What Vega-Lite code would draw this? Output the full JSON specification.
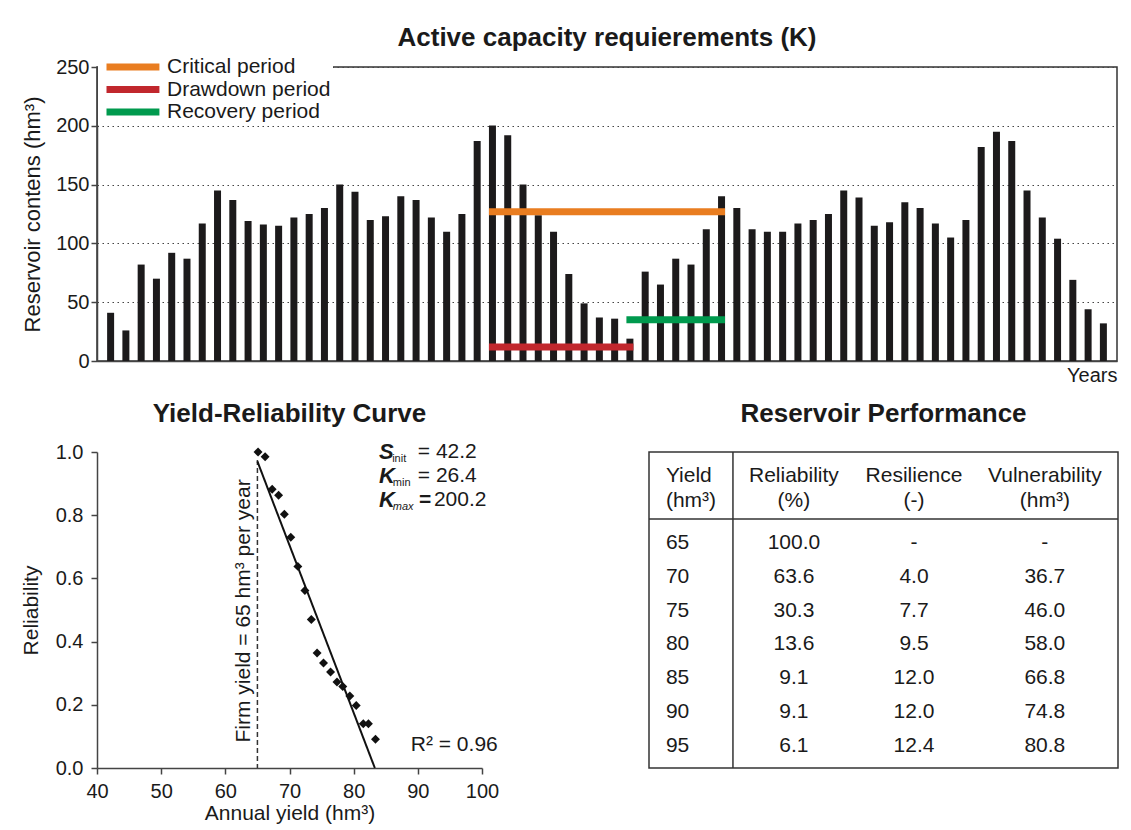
{
  "$schema": "https://vega.github.io/schema/vega-lite/v6.json",
  "background": "white",
  "padding": {"left": 20, "top": 24, "right": 5, "bottom": 5},
  "datasets": {
    "storage": [
      {"year": 1, "storage": 41}, {"year": 2, "storage": 26}, {"year": 3, "storage": 82}, {"year": 4, "storage": 70},
      {"year": 5, "storage": 92}, {"year": 6, "storage": 87}, {"year": 7, "storage": 117}, {"year": 8, "storage": 145},
      {"year": 9, "storage": 137}, {"year": 10, "storage": 119}, {"year": 11, "storage": 116}, {"year": 12, "storage": 115},
      {"year": 13, "storage": 122}, {"year": 14, "storage": 125}, {"year": 15, "storage": 130}, {"year": 16, "storage": 150},
      {"year": 17, "storage": 144}, {"year": 18, "storage": 120}, {"year": 19, "storage": 123}, {"year": 20, "storage": 140},
      {"year": 21, "storage": 137}, {"year": 22, "storage": 122}, {"year": 23, "storage": 110}, {"year": 24, "storage": 125},
      {"year": 25, "storage": 187}, {"year": 26, "storage": 200.2}, {"year": 27, "storage": 192}, {"year": 28, "storage": 150},
      {"year": 29, "storage": 124}, {"year": 30, "storage": 110}, {"year": 31, "storage": 74}, {"year": 32, "storage": 49},
      {"year": 33, "storage": 37}, {"year": 34, "storage": 36}, {"year": 35, "storage": 19}, {"year": 36, "storage": 76},
      {"year": 37, "storage": 65}, {"year": 38, "storage": 87}, {"year": 39, "storage": 82}, {"year": 40, "storage": 112},
      {"year": 41, "storage": 140}, {"year": 42, "storage": 130}, {"year": 43, "storage": 112}, {"year": 44, "storage": 110},
      {"year": 45, "storage": 110}, {"year": 46, "storage": 117}, {"year": 47, "storage": 120}, {"year": 48, "storage": 125},
      {"year": 49, "storage": 145}, {"year": 50, "storage": 139}, {"year": 51, "storage": 115}, {"year": 52, "storage": 118},
      {"year": 53, "storage": 135}, {"year": 54, "storage": 130}, {"year": 55, "storage": 117}, {"year": 56, "storage": 105},
      {"year": 57, "storage": 120}, {"year": 58, "storage": 182}, {"year": 59, "storage": 195}, {"year": 60, "storage": 187},
      {"year": 61, "storage": 145}, {"year": 62, "storage": 122}, {"year": 63, "storage": 104}, {"year": 64, "storage": 69},
      {"year": 65, "storage": 44}, {"year": 66, "storage": 32}
    ],
    "periods": [
      {"period": "Critical period", "start": 26, "end": 41, "level": 127},
      {"period": "Drawdown period", "start": 26, "end": 35, "level": 12},
      {"period": "Recovery period", "start": 35, "end": 41, "level": 35}
    ],
    "curve": [
      {"yield": 65.1, "reliability": 1.0}, {"yield": 66.2, "reliability": 0.985}, {"yield": 67.3, "reliability": 0.882},
      {"yield": 68.3, "reliability": 0.863}, {"yield": 69.2, "reliability": 0.803}, {"yield": 70.2, "reliability": 0.73},
      {"yield": 71.3, "reliability": 0.638}, {"yield": 72.4, "reliability": 0.562}, {"yield": 73.4, "reliability": 0.47},
      {"yield": 74.3, "reliability": 0.364}, {"yield": 75.3, "reliability": 0.332}, {"yield": 76.4, "reliability": 0.304},
      {"yield": 77.4, "reliability": 0.272}, {"yield": 78.3, "reliability": 0.258}, {"yield": 79.4, "reliability": 0.228},
      {"yield": 80.4, "reliability": 0.198}, {"yield": 81.5, "reliability": 0.14}, {"yield": 82.3, "reliability": 0.14},
      {"yield": 83.4, "reliability": 0.091}
    ],
    "fit": [{"yield": 65, "reliability": 0.97}, {"yield": 83.3, "reliability": 0}],
    "firm": [{"yield": 65, "reliability": 0.975}],
    "performance": [
      {"Yield": 65, "Reliability": "100.0", "Resilience": "-", "Vulnerability": "-"},
      {"Yield": 70, "Reliability": "63.6", "Resilience": "4.0", "Vulnerability": "36.7"},
      {"Yield": 75, "Reliability": "30.3", "Resilience": "7.7", "Vulnerability": "46.0"},
      {"Yield": 80, "Reliability": "13.6", "Resilience": "9.5", "Vulnerability": "58.0"},
      {"Yield": 85, "Reliability": "9.1", "Resilience": "12.0", "Vulnerability": "66.8"},
      {"Yield": 90, "Reliability": "9.1", "Resilience": "12.0", "Vulnerability": "74.8"},
      {"Yield": 95, "Reliability": "6.1", "Resilience": "12.4", "Vulnerability": "80.8"}
    ]
  },
  "spacing": 14,
  "vconcat": [
    {
      "width": 1020,
      "height": 294,
      "view": {"stroke": "#333", "strokeWidth": 1.5},
      "title": {"text": "Active capacity requierements (K)", "offset": 6},
      "layer": [
        {
          "data": {"name": "storage"},
          "mark": {"type": "bar", "size": 7, "color": "#1c1a1b"},
          "encoding": {
            "x": {"field": "year", "type": "quantitative", "title": "Years",
              "scale": {"domain": [0.436, 66.564], "nice": false, "zero": false},
              "axis": {"ticks": false, "labels": false, "grid": false, "titleAnchor": "end", "titlePadding": 4}},
            "y": {"field": "storage", "type": "quantitative", "title": "Reservoir contens (hm³)",
              "scale": {"domain": [0, 250], "nice": false},
              "axis": {"values": [0, 50, 100, 150, 200, 250], "tickSize": 6, "labelPadding": 2, "titlePadding": 11, "titleFontSize": 22,
                "grid": true, "gridDash": [1.5, 3.5], "gridColor": "#444", "gridWidth": 1.2}}
          }
        },
        {
          "data": {"name": "periods"},
          "mark": {"type": "rule", "strokeWidth": 7, "strokeCap": "square"},
          "encoding": {
            "x": {"field": "start", "type": "quantitative", "title": "Years"},
            "x2": {"field": "end"},
            "y": {"field": "level", "type": "quantitative", "title": "Reservoir contens (hm³)"},
            "color": {"field": "period", "type": "nominal",
              "scale": {"domain": ["Critical period", "Drawdown period", "Recovery period"], "range": ["#E97D20", "#C1272D", "#009A4E"]},
              "legend": {"title": null, "orient": "none", "legendX": 1, "legendY": -13,
                "symbolType": "M0,0H10", "symbolSize": 112, "symbolStrokeWidth": 7, "symbolOffset": -4,
                "labelFontSize": 21, "labelColor": "#1a1a1a", "labelLimit": 400, "clipHeight": 22,
                "labelOffset": 50, "fillColor": "white", "padding": 2, "rowPadding": 0.5}}
          }
        }
      ]
    },
    {
      "spacing": 148,
      "hconcat": [
        {
          "width": 385,
          "height": 316,
          "view": {"stroke": null},
          "title": {"text": "Yield-Reliability Curve", "offset": 14},
          "layer": [
            {
              "data": {"name": "firm"},
              "mark": {"type": "rule", "strokeDash": [5, 3], "strokeWidth": 1.5, "color": "#333"},
              "encoding": {
                "x": {"field": "yield", "type": "quantitative", "title": "Annual yield (hm³)",
                  "scale": {"domain": [40, 100], "nice": false, "zero": false},
                  "axis": {"values": [40, 50, 60, 70, 80, 90, 100], "tickSize": 6, "labelPadding": 7, "titlePadding": 1, "titleFontSize": 21, "labelFlush": false, "grid": false}},
                "y": {"field": "reliability", "type": "quantitative", "title": "Reliability",
                  "scale": {"domain": [0, 1], "nice": false},
                  "axis": {"values": [0, 0.1, 0.2, 0.3, 0.4, 0.5, 0.6, 0.7, 0.8, 0.9, 1.0],
                    "labelExpr": "round(datum.value*10) % 2 == 0 ? format(datum.value, '.1f') : ''",
                    "tickSize": 6, "labelPadding": 8, "titlePadding": 14, "titleFontSize": 21, "grid": false}},
                "y2": {"datum": 0}
              }
            },
            {
              "data": {"name": "fit"},
              "mark": {"type": "line", "color": "#111", "strokeWidth": 2},
              "encoding": {
                "x": {"field": "yield", "type": "quantitative", "title": "Annual yield (hm³)"},
                "y": {"field": "reliability", "type": "quantitative", "title": "Reliability"}
              }
            },
            {
              "data": {"name": "curve"},
              "mark": {"type": "point", "shape": "diamond", "filled": true, "size": 80, "color": "#111", "opacity": 1},
              "encoding": {
                "x": {"field": "yield", "type": "quantitative", "title": "Annual yield (hm³)"},
                "y": {"field": "reliability", "type": "quantitative", "title": "Reliability"}
              }
            },
            {
              "data": {"values": [{}]},
              "mark": {"type": "text", "angle": 270, "fontSize": 21, "align": "center", "baseline": "middle", "color": "#1a1a1a"},
              "encoding": {"x": {"datum": 62.9}, "y": {"datum": 0.497}, "text": {"value": "Firm yield = 65 hm³ per year"}}
            },
            {
              "data": {"values": [{}]},
              "mark": {"type": "text", "fontSize": 22, "fontWeight": "bold", "fontStyle": "italic", "align": "left", "baseline": "middle", "color": "#1a1a1a"},
              "encoding": {"x": {"datum": 83.95}, "y": {"datum": 1.0}, "text": {"value": "S"}}
            },
            {
              "data": {"values": [{}]},
              "mark": {"type": "text", "fontSize": 22, "fontWeight": "bold", "fontStyle": "italic", "align": "left", "baseline": "middle", "color": "#1a1a1a"},
              "encoding": {"x": {"datum": 83.95}, "y": {"datum": 0.924}, "text": {"value": "K"}}
            },
            {
              "data": {"values": [{}]},
              "mark": {"type": "text", "fontSize": 22, "fontWeight": "bold", "fontStyle": "italic", "align": "left", "baseline": "middle", "color": "#1a1a1a"},
              "encoding": {"x": {"datum": 83.95}, "y": {"datum": 0.848}, "text": {"value": "K"}}
            },
            {
              "data": {"values": [{}]},
              "mark": {"type": "text", "fontSize": 11, "align": "left", "baseline": "middle", "color": "#1a1a1a"},
              "encoding": {"x": {"datum": 86.0}, "y": {"datum": 0.979}, "text": {"value": "init"}}
            },
            {
              "data": {"values": [{}]},
              "mark": {"type": "text", "fontSize": 11, "align": "left", "baseline": "middle", "color": "#1a1a1a"},
              "encoding": {"x": {"datum": 86.1}, "y": {"datum": 0.901}, "text": {"value": "min"}}
            },
            {
              "data": {"values": [{}]},
              "mark": {"type": "text", "fontSize": 11, "fontStyle": "italic", "align": "left", "baseline": "middle", "color": "#1a1a1a"},
              "encoding": {"x": {"datum": 86.1}, "y": {"datum": 0.825}, "text": {"value": "max"}}
            },
            {
              "data": {"values": [{}]},
              "mark": {"type": "text", "fontSize": 21, "align": "left", "baseline": "middle", "color": "#1a1a1a"},
              "encoding": {"x": {"datum": 90.0}, "y": {"datum": 1.0}, "text": {"value": "= 42.2"}}
            },
            {
              "data": {"values": [{}]},
              "mark": {"type": "text", "fontSize": 21, "align": "left", "baseline": "middle", "color": "#1a1a1a"},
              "encoding": {"x": {"datum": 90.0}, "y": {"datum": 0.924}, "text": {"value": "= 26.4"}}
            },
            {
              "data": {"values": [{}]},
              "mark": {"type": "text", "fontSize": 21, "fontWeight": "bold", "align": "left", "baseline": "middle", "color": "#1a1a1a"},
              "encoding": {"x": {"datum": 90.2}, "y": {"datum": 0.848}, "text": {"value": "="}}
            },
            {
              "data": {"values": [{}]},
              "mark": {"type": "text", "fontSize": 21, "align": "left", "baseline": "middle", "color": "#1a1a1a"},
              "encoding": {"x": {"datum": 92.5}, "y": {"datum": 0.848}, "text": {"value": "200.2"}}
            },
            {
              "data": {"values": [{}]},
              "mark": {"type": "text", "fontSize": 21, "align": "left", "baseline": "middle", "color": "#1a1a1a"},
              "encoding": {"x": {"datum": 88.9}, "y": {"datum": 0.073}, "text": {"value": "R² = 0.96"}}
            }
          ]
        },
        {
          "width": 469,
          "height": 316,
          "view": {"stroke": "#333", "strokeWidth": 1.5},
          "title": {"text": "Reservoir Performance", "offset": 24},
          "layer": [
            {
              "data": {"name": "performance"},
              "mark": {"type": "text", "fontSize": 21, "align": "left", "baseline": "middle", "color": "#1a1a1a"},
              "encoding": {
                "x": {"datum": 0.036, "type": "quantitative", "scale": {"domain": [0, 1], "nice": false, "zero": false}, "axis": null},
                "y": {"field": "Yield", "type": "quantitative", "scale": {"domain": [51.58, 98.24], "nice": false, "zero": false, "reverse": true}, "axis": null},
                "text": {"field": "Yield"}
              }
            },
            {
              "data": {"name": "performance"},
              "mark": {"type": "text", "fontSize": 21, "align": "center", "baseline": "middle", "color": "#1a1a1a"},
              "encoding": {"x": {"datum": 0.309}, "y": {"field": "Yield", "type": "quantitative"}, "text": {"field": "Reliability"}}
            },
            {
              "data": {"name": "performance"},
              "mark": {"type": "text", "fontSize": 21, "align": "center", "baseline": "middle", "color": "#1a1a1a"},
              "encoding": {"x": {"datum": 0.565}, "y": {"field": "Yield", "type": "quantitative"}, "text": {"field": "Resilience"}}
            },
            {
              "data": {"name": "performance"},
              "mark": {"type": "text", "fontSize": 21, "align": "center", "baseline": "middle", "color": "#1a1a1a"},
              "encoding": {"x": {"datum": 0.844}, "y": {"field": "Yield", "type": "quantitative"}, "text": {"field": "Vulnerability"}}
            },
            {
              "data": {"values": [{}]},
              "mark": {"type": "text", "fontSize": 21, "align": "left", "baseline": "middle", "lineHeight": 25, "color": "#1a1a1a"},
              "encoding": {"x": {"datum": 0.036}, "y": {"datum": 55.19}, "text": {"value": ["Yield", "(hm³)"]}}
            },
            {
              "data": {"values": [{}]},
              "mark": {"type": "text", "fontSize": 21, "align": "center", "baseline": "middle", "lineHeight": 25, "color": "#1a1a1a"},
              "encoding": {"x": {"datum": 0.309}, "y": {"datum": 55.19}, "text": {"value": ["Reliability", "(%)"]}}
            },
            {
              "data": {"values": [{}]},
              "mark": {"type": "text", "fontSize": 21, "align": "center", "baseline": "middle", "lineHeight": 25, "color": "#1a1a1a"},
              "encoding": {"x": {"datum": 0.565}, "y": {"datum": 55.19}, "text": {"value": ["Resilience", "(-)"]}}
            },
            {
              "data": {"values": [{}]},
              "mark": {"type": "text", "fontSize": 21, "align": "center", "baseline": "middle", "lineHeight": 25, "color": "#1a1a1a"},
              "encoding": {"x": {"datum": 0.844}, "y": {"datum": 55.19}, "text": {"value": ["Vulnerability", "(hm³)"]}}
            },
            {
              "data": {"values": [{}]},
              "mark": {"type": "rule", "color": "#333", "strokeWidth": 1.5},
              "encoding": {"y": {"datum": 61.46}}
            },
            {
              "data": {"values": [{}]},
              "mark": {"type": "rule", "color": "#333", "strokeWidth": 1.5},
              "encoding": {"x": {"datum": 0.179}}
            }
          ]
        }
      ]
    }
  ],
  "config": {
    "font": "Liberation Sans",
    "axis": {"labelFontSize": 20, "titleFontSize": 20, "titleFontWeight": "normal", "labelColor": "#1a1a1a", "titleColor": "#1a1a1a",
      "domainColor": "#444", "tickColor": "#444", "domainWidth": 1.5, "tickWidth": 1.5, "labelFont": "Liberation Sans", "titleFont": "Liberation Sans"},
    "title": {"fontSize": 26, "font": "Liberation Sans", "fontWeight": "bold", "color": "#1a1a1a", "anchor": "middle"},
    "legend": {"labelFont": "Liberation Sans"},
    "text": {"font": "Liberation Sans"}
  }
}
